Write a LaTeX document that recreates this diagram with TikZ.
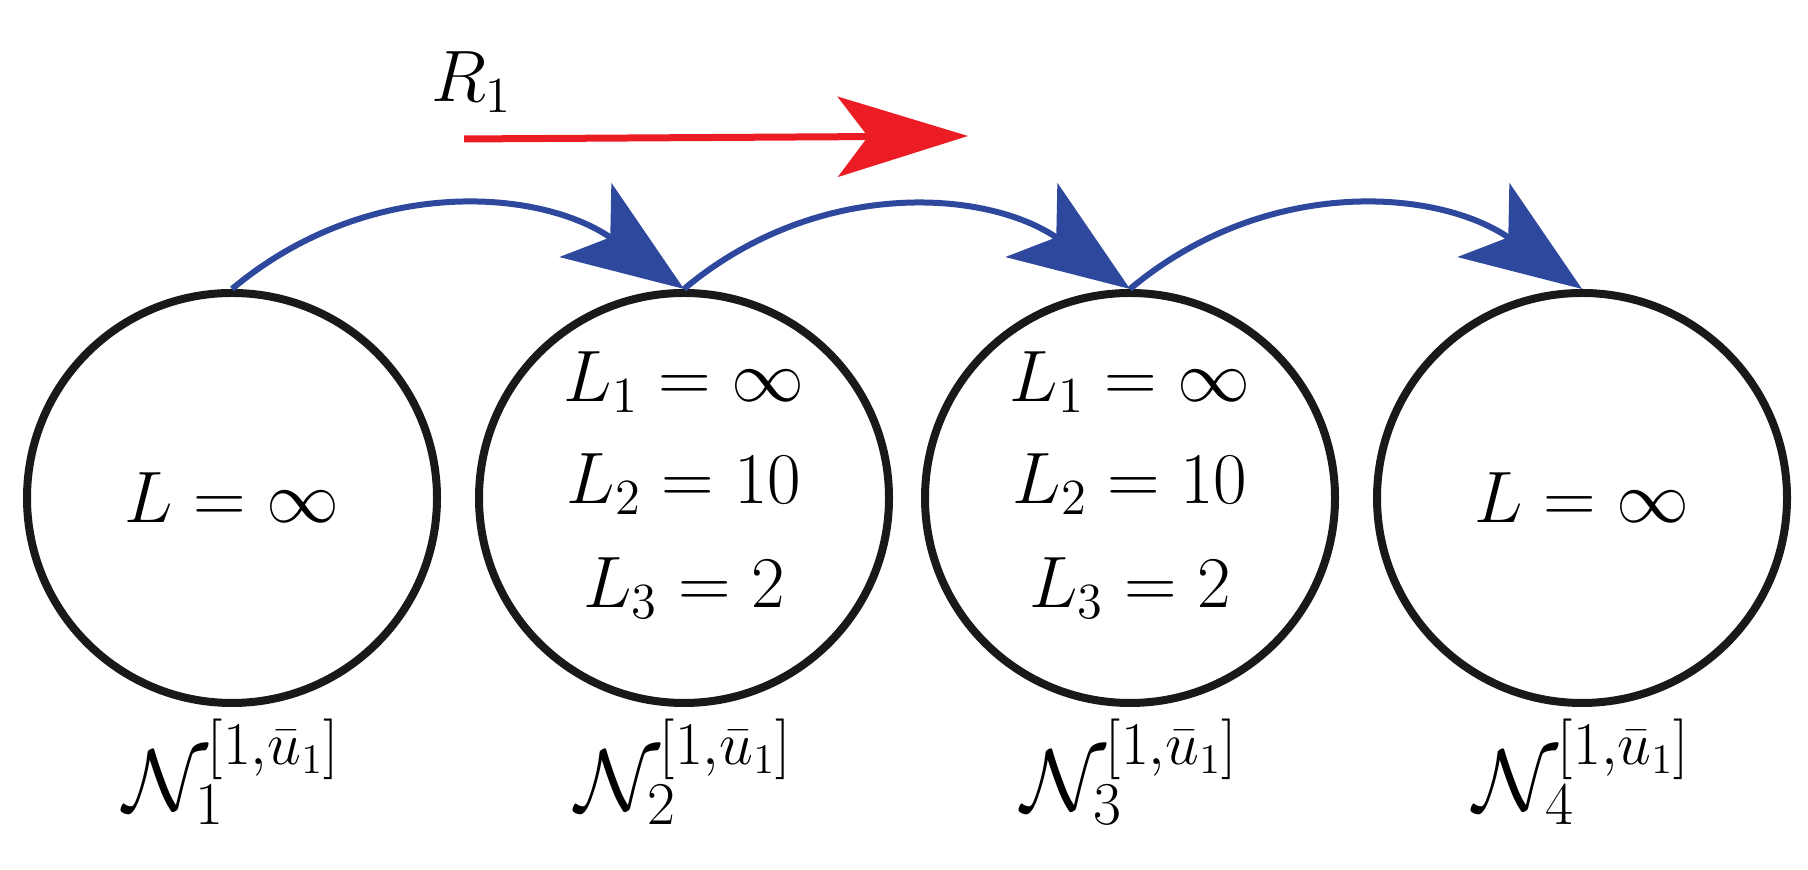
\documentclass[tikz,border=0pt]{standalone}
\usetikzlibrary{arrows.meta}
\begin{document}
\begin{tikzpicture}[
  st/.style={circle,draw=black!90,line width=0.08cm,minimum size=4.1cm,inner sep=0pt},
  txt/.style={font=\fontsize{19.5}{22}\selectfont},
  lab/.style={font=\fontsize{23}{26}\selectfont},
  hop/.style={draw={rgb,255:red,46;green,72;blue,158},line width=0.06cm,
    -{Stealth[length=1.2cm,width=0.9cm,inset=0.3cm]}},
  red/.style={draw={rgb,255:red,235;green,28;blue,36},line width=0.07cm,fill={rgb,255:red,235;green,28;blue,36},
    -{Stealth[length=1.3cm,width=0.8cm,inset=0.3cm]}}]
\useasboundingbox (0,0) rectangle (18.08,8.7);
\foreach \i/\x in {1/2.32,2/6.84,3/11.30,4/15.82}{
  \node[st] (c\i) at (\x,3.72) {};
  \node[lab] (n\i) at (\x,0.98) {$\mathcal{N}_{\i}^{[1,\bar u_1]}$};
}
\node[txt] at (c1) {$L=\infty$};
\node[txt] at (c4) {$L=\infty$};
\foreach \i in {2,3}{
  \node[txt] at ([yshift=1.16cm]c\i.center) {$L_1=\infty$};
  \node[txt] at ([yshift=0.14cm]c\i.center) {$L_2=10$};
  \node[txt] at ([yshift=-0.9cm]c\i.center) {$L_3=2$};
}
\draw[hop] (c1.north) to[out=40,in=145] (c2.north);
\draw[hop] (c2.north) to[out=40,in=145] (c3.north);
\draw[hop] (c3.north) to[out=40,in=145] (c4.north);
\coordinate (ra) at (4.64,7.31);
\coordinate (rb) at (9.68,7.34);
\node[font=\fontsize{22}{24}\selectfont] (r) at (4.72,7.88) {$R_1$};
\draw[red] (ra) -- (rb);
\end{tikzpicture}
\end{document}
